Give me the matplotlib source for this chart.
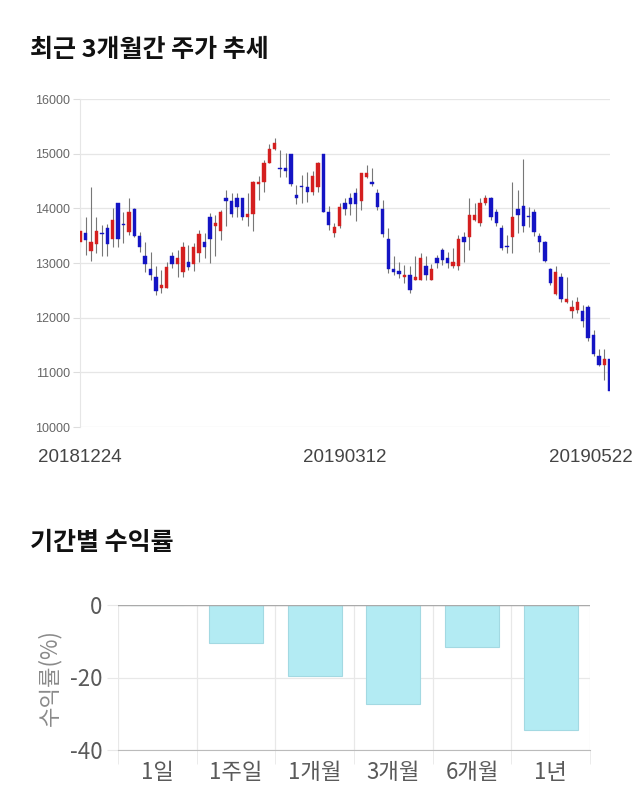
import matplotlib.pyplot as plt
from matplotlib.transforms import ScaledTranslation

plt.rcParams['font.family'] = ['Noto Sans CJK KR', 'DejaVu Sans']

# 일봉 데이터 (시가, 종가, 고가, 저가)
opens = [13386, 13545, 13220, 13344, 13545, 13640, 13435, 14090, 13705, 13575,
         13990, 13495, 13130, 12890, 12740, 12540, 12540, 13135, 12985, 12830,
         13025, 12985, 13190, 13380, 13840, 13685, 13590, 14185, 14140, 14185,
         14185, 13838, 13890, 14440, 14490, 14836, 15085, 14735, 14745, 14995,
         14245, 14395, 14385, 14290, 14386, 14995, 13940, 13545, 13680, 14093,
         14185, 14288, 14135, 14580, 14490, 14288, 13983, 13435, 12887, 12850,
         12735, 12783, 12690, 12690, 12936, 12690, 13088, 13240, 13088, 12936,
         12936, 13483, 13483, 13788, 13740, 14093, 14185, 13940, 13636, 13295,
         13483, 13983, 14044, 13845, 13940, 13495, 13391, 12892, 12435, 12740,
         12283, 12131, 12143, 12131, 12186, 11686, 11290, 11137, 11242]
closes = [13587, 13420, 13390, 13590, 13535, 13340, 13790, 13440, 13695, 13940,
          13495, 13285, 12985, 12780, 12490, 12595, 12935, 12985, 13090, 13290,
          12935, 13290, 13530, 13290, 13435, 13740, 13930, 14135, 13890, 14030,
          13840, 13892, 14490, 14490, 14835, 15085, 15190, 14725, 14685, 14440,
          14185, 14385, 14290, 14590, 14836, 13940, 13697, 13654, 14030, 13983,
          14080, 14080, 14641, 14641, 14440, 14031, 13530, 12887, 12838, 12800,
          12783, 12497, 12740, 13088, 12783, 12887, 12996, 13057, 12996, 13025,
          13435, 13391, 13879, 13879, 14093, 14185, 13850, 13740, 13270, 13285,
          13838, 13879, 13679, 13835, 13575, 13391, 13038, 12643, 12832, 12338,
          12344, 12192, 12283, 11942, 11637, 11338, 11137, 11242, 10650]
highs = [13850, 13850, 14390, 13850, 13700, 13720, 14000, 14100, 13940, 14190,
         14000, 13570, 13380, 13210, 12950, 12880, 13025, 13210, 13240, 13390,
         13330, 13360, 13600, 13545, 13920, 13880, 13970, 14335, 14275, 14275,
         14185, 14275, 14500, 14600, 14885, 15170, 15280, 15070, 15005, 14995,
         14430, 14610, 14670, 14683, 14840, 15000, 14044, 13727, 14093, 14185,
         14275, 14367, 14645, 14793, 14733, 14348, 14150, 13636, 13120, 13025,
         12965, 12936, 13120, 13180, 13120, 12990, 13150, 13270, 13210, 13270,
         13514, 13574, 14185, 14093, 14185, 14245, 14200, 13990, 13700, 13514,
         14490, 14336, 14900, 14031, 13990, 13545, 13400, 12910, 12936, 12813,
         12750, 12326, 12387, 12235, 12235, 11777, 11430, 11430, 11250]
lows = [13300, 13150, 13030, 13180, 13130, 13130, 13300, 13300, 13360, 13510,
        13470, 13210, 12830, 12690, 12420, 12450, 12540, 12905, 12750, 12750,
        12870, 12845, 13010, 13090, 13000, 13130, 13420, 13670, 13840, 13840,
        13780, 13670, 13590, 14150, 14305, 14825, 15070, 14580, 14580, 14400,
        14080, 14095, 14125, 14245, 14305, 13925, 13605, 13483, 13636, 13880,
        13880, 13776, 13970, 14560, 14400, 13970, 13483, 12813, 12783, 12722,
        12630, 12450, 12690, 12690, 12690, 12690, 12905, 12965, 12905, 12905,
        12870, 13025, 13240, 13770, 13679, 14060, 13790, 13680, 13240, 13180,
        13180, 13545, 13575, 13666, 13500, 13208, 13020, 12600, 12417, 12295,
        12265, 11991, 12082, 11838, 11574, 11290, 11107, 10863, 10620]

date_labels = ['20181224', '20190312', '20190522']
date_index = [0, 49, 98]
price_ticks = [10000, 11000, 12000, 13000, 14000, 15000, 16000]

# 기간별 수익률
periods = ['1일', '1주일', '1개월', '3개월', '6개월', '1년']
returns = [0, -10.5, -19.5, -27.2, -11.6, -34.4]

fig = plt.figure(figsize=(6.4, 8.1), dpi=100)

fig.text(30 / 640, 1 - 50 / 810, '최근 3개월간 주가 추세', fontsize=18, fontweight='bold',
         color='#111111', ha='left', va='center')
fig.text(30 / 640, 1 - 543 / 810, '기간별 수익률', fontsize=18, fontweight='bold',
         color='#111111', ha='left', va='center')

# --- 캔들 차트 ---
ax = fig.add_axes([80 / 640, 1 - 427 / 810, 530 / 640, 328 / 810])
red, blue = '#d41f1f', '#1414c4'
for i in range(len(opens)):
    o, c, h, l = opens[i], closes[i], highs[i], lows[i]
    col = red if c > o else blue
    ax.vlines(i, l, h, color='#777777', linewidth=0.8, zorder=2)
    bottom = min(o, c)
    height = max(abs(c - o), 18)
    ax.bar(i, height, bottom=bottom, width=0.62, color=col, edgecolor=col,
           linewidth=0.3, zorder=3)

ax.set_xlim(-0.05, len(opens) - 0.95)
ax.set_ylim(10000, 16000)
ax.set_yticks(price_ticks)
ax.set_yticklabels([str(p) for p in price_ticks])
ax.grid(axis='y', color='#e6e6e6', linewidth=0.9, zorder=0)
ax.set_xticks(date_index)
ax.set_xticklabels(date_labels)
for s in ['top', 'right', 'bottom']:
    ax.spines[s].set_visible(False)
ax.spines['left'].set_color('#e6e6e6')
ax.tick_params(axis='y', length=5, color='#dddddd', labelsize=9,
               labelcolor='#666666', pad=2)
ax.tick_params(axis='x', length=0, labelsize=13.5, labelcolor='#444444', pad=16)
for lab in ax.get_xticklabels() + ax.get_yticklabels():
    lab.set_family(['Liberation Sans', 'DejaVu Sans'])
xl = ax.get_xticklabels()
xl[-1].set_transform(xl[-1].get_transform() + ScaledTranslation(-19 / 100, 0, fig.dpi_scale_trans))

# --- 수익률 막대 ---
bx = fig.add_axes([118 / 640, 1 - 750 / 810, 472 / 640, 145 / 810])
bx.bar(range(len(periods)), returns, width=0.69, color='#b3ebf3',
       edgecolor='#a3d9e2', linewidth=0.8, zorder=3)
bx.set_xlim(-0.5, len(periods) - 0.5)
bx.set_ylim(-40, 0)
bx.set_yticks([0, -20, -40])
bx.set_yticklabels(['0', '-20', '-40'])
bx.set_xticks(range(len(periods)))
bx.set_xticklabels(periods)
bx.set_xticks([i - 0.5 for i in range(len(periods) + 1)], minor=True)
bx.grid(axis='x', which='minor', color='#e8e8e8', linewidth=0.9, zorder=0)
bx.grid(axis='y', color='#e8e8e8', linewidth=0.9, zorder=0)
bx.axhline(0, color='#aaaaaa', linewidth=1.0, zorder=4)
for s in ['top', 'right', 'left']:
    bx.spines[s].set_visible(False)
bx.spines['bottom'].set_color('#bbbbbb')
bx.tick_params(axis='x', which='major', length=0, labelsize=16, labelcolor='#5a5a5a', pad=8)
bx.tick_params(axis='x', which='minor', length=10, color='#e8e8e8')
bx.tick_params(axis='y', length=8, color='#e8e8e8', labelsize=16, labelcolor='#5a5a5a', pad=3)
bx.set_ylabel('수익률(%)', fontsize=16, color='#8a8a8a', labelpad=6)

fig.savefig('out.png', dpi=100)
